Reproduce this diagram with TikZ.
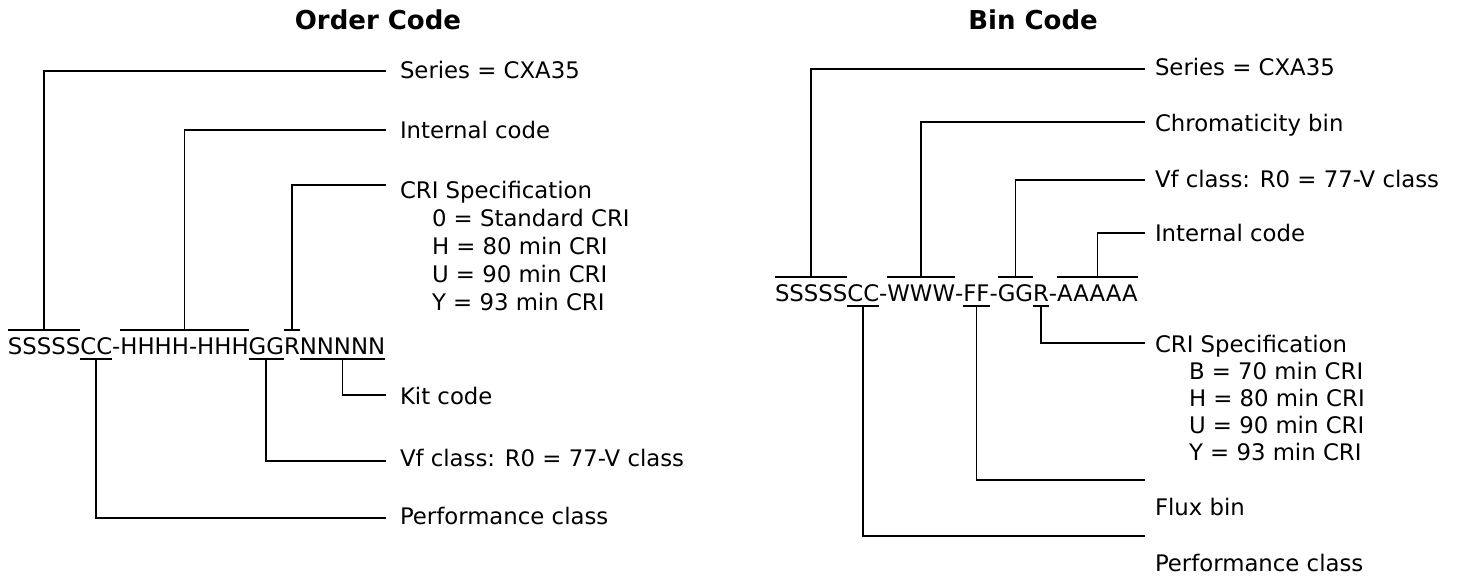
\documentclass[tikz,border=0pt]{standalone}
\usepackage{fontspec}
\setmainfont{DejaVu Sans}
\begin{document}
\begin{tikzpicture}[x=1pt,y=-1pt,
  conn/.style={line width=1.8pt, line join=miter},
  cd/.style={anchor=base west, inner sep=0pt, outer sep=0pt, text height=17pt, text depth=0pt, font=\fontsize{22.8}{27}\selectfont},
  lbl/.style={anchor=base west, inner sep=0pt, outer sep=0pt, font=\fontsize{22.8}{27}\selectfont},
  ttl/.style={anchor=base, inner sep=0pt, outer sep=0pt, font=\fontsize{26}{30}\selectfont\bfseries}]
\useasboundingbox (0,0) rectangle (1465,578);

% ---------------- Titles
\node[ttl] (t1) at (378,30) {Order Code};
\node[ttl] (t2) at (1033,30) {Bin Code};

% ---------------- Order code string
\node[cd] (a1) at (8,354) {SSSSS};
\node[cd] (a2) at (a1.base east) {CC};
\node[cd] (a3) at (a2.base east) {-};
\node[cd] (a4) at (a3.base east) {HHHH-HHH};
\node[cd] (a5) at (a4.base east) {GG};
\node[cd] (a6) at (a5.base east) {R};
\node[cd] (a7) at (a6.base east) {NNNNN};

% over/underlines
\draw[conn] ([yshift=7pt]a1.north west) -- ([yshift=7pt]a1.north east);
\draw[conn] ([yshift=7pt]a4.north west) -- ([yshift=7pt]a4.north east);
\draw[conn] ([yshift=7pt]a6.north west) -- ([yshift=7pt]a6.north east);
\draw[conn] ([yshift=-5pt]a2.south west) -- ([yshift=-5pt]a2.south east);
\draw[conn] ([yshift=-5pt]a5.south west) -- ([yshift=-5pt]a5.south east);
\draw[conn] ([yshift=-5pt]a7.south west) -- ([yshift=-5pt]a7.south east);

% label ends
\coordinate (oa1) at (386,71);
\coordinate (oa4) at (386,130);
\coordinate (oa6) at (386,185);
\coordinate (oa7) at (386,395);
\coordinate (oa5) at (386,461);
\coordinate (oa2) at (386,518);

\draw[conn] ([yshift=7pt]a1.north) |- (oa1);
\draw[conn] ([yshift=7pt]a4.north) |- (oa4);
\draw[conn] ([yshift=7pt]a6.north) |- (oa6);
\draw[conn] ([yshift=-5pt]a7.south) |- (oa7);
\draw[conn] ([yshift=-5pt]a5.south) |- (oa5);
\draw[conn] ([yshift=-5pt]a2.south) |- (oa2);

\node[lbl] (la1) at (400,78) {Series = CXA35};
\node[lbl] (la4) at (400,138) {Internal code};
\node[lbl] (la6) at (400,198) {CRI Specification};
\node[lbl] (la6a) at (432,226) {0 = Standard CRI};
\node[lbl] (la6b) at (432,254) {H = 80 min CRI};
\node[lbl] (la6c) at (432,282) {U = 90 min CRI};
\node[lbl] (la6d) at (432,310) {Y = 93 min CRI};
\node[lbl] (la7) at (400,404) {Kit code};
\node[lbl] (la5) at (400,466) {Vf class: R0 = 77-V class};
\node[lbl] (la2) at (400,524) {Performance class};

% ---------------- Bin code string
\node[cd] (b1) at (775,301) {SSSSS};
\node[cd] (b2) at (b1.base east) {CC};
\node[cd] (b3) at (b2.base east) {-};
\node[cd] (b4) at (b3.base east) {WWW};
\node[cd] (b5) at (b4.base east) {-};
\node[cd] (b6) at (b5.base east) {FF};
\node[cd] (b7) at (b6.base east) {-};
\node[cd] (b8) at (b7.base east) {GG};
\node[cd] (b9) at (b8.base east) {R};
\node[cd] (b10) at (b9.base east) {-};
\node[cd] (b11) at (b10.base east) {AAAAA};

\draw[conn] ([yshift=7pt]b1.north west) -- ([yshift=7pt]b1.north east);
\draw[conn] ([yshift=7pt]b4.north west) -- ([yshift=7pt]b4.north east);
\draw[conn] ([yshift=7pt]b8.north west) -- ([yshift=7pt]b8.north east);
\draw[conn] ([yshift=7pt]b11.north west) -- ([yshift=7pt]b11.north east);
\draw[conn] ([yshift=-5pt]b2.south west) -- ([yshift=-5pt]b2.south east);
\draw[conn] ([yshift=-5pt]b6.south west) -- ([yshift=-5pt]b6.south east);
\draw[conn] ([yshift=-5pt]b9.south west) -- ([yshift=-5pt]b9.south east);

\coordinate (ob1) at (1145,69);
\coordinate (ob4) at (1145,122);
\coordinate (ob8) at (1145,180);
\coordinate (ob11) at (1145,233);
\coordinate (ob9) at (1145,343);
\coordinate (ob6) at (1145,480);
\coordinate (ob2) at (1145,536);

\draw[conn] ([yshift=7pt]b1.north) |- (ob1);
\draw[conn] ([yshift=7pt]b4.north) |- (ob4);
\draw[conn] ([yshift=7pt]b8.north) |- (ob8);
\draw[conn] ([yshift=7pt]b11.north) |- (ob11);
\draw[conn] ([yshift=-5pt]b9.south) |- (ob9);
\draw[conn] ([yshift=-5pt]b6.south) |- (ob6);
\draw[conn] ([yshift=-5pt]b2.south) |- (ob2);

\node[lbl] (lb1) at (1155,76) {Series = CXA35};
\node[lbl] (lb4) at (1155,131) {Chromaticity bin};
\node[lbl] (lb8) at (1155,187) {Vf class: R0 = 77-V class};
\node[lbl] (lb11) at (1155,241) {Internal code};
\node[lbl] (lb9) at (1155,352) {CRI Specification};
\node[lbl] (lb9a) at (1189,379) {B = 70 min CRI};
\node[lbl] (lb9b) at (1189,406) {H = 80 min CRI};
\node[lbl] (lb9c) at (1189,433) {U = 90 min CRI};
\node[lbl] (lb9d) at (1189,460) {Y = 93 min CRI};
\node[lbl] (lb6) at (1155,515) {Flux bin};
\node[lbl] (lb2) at (1155,571) {Performance class};
\end{tikzpicture}
\end{document}
